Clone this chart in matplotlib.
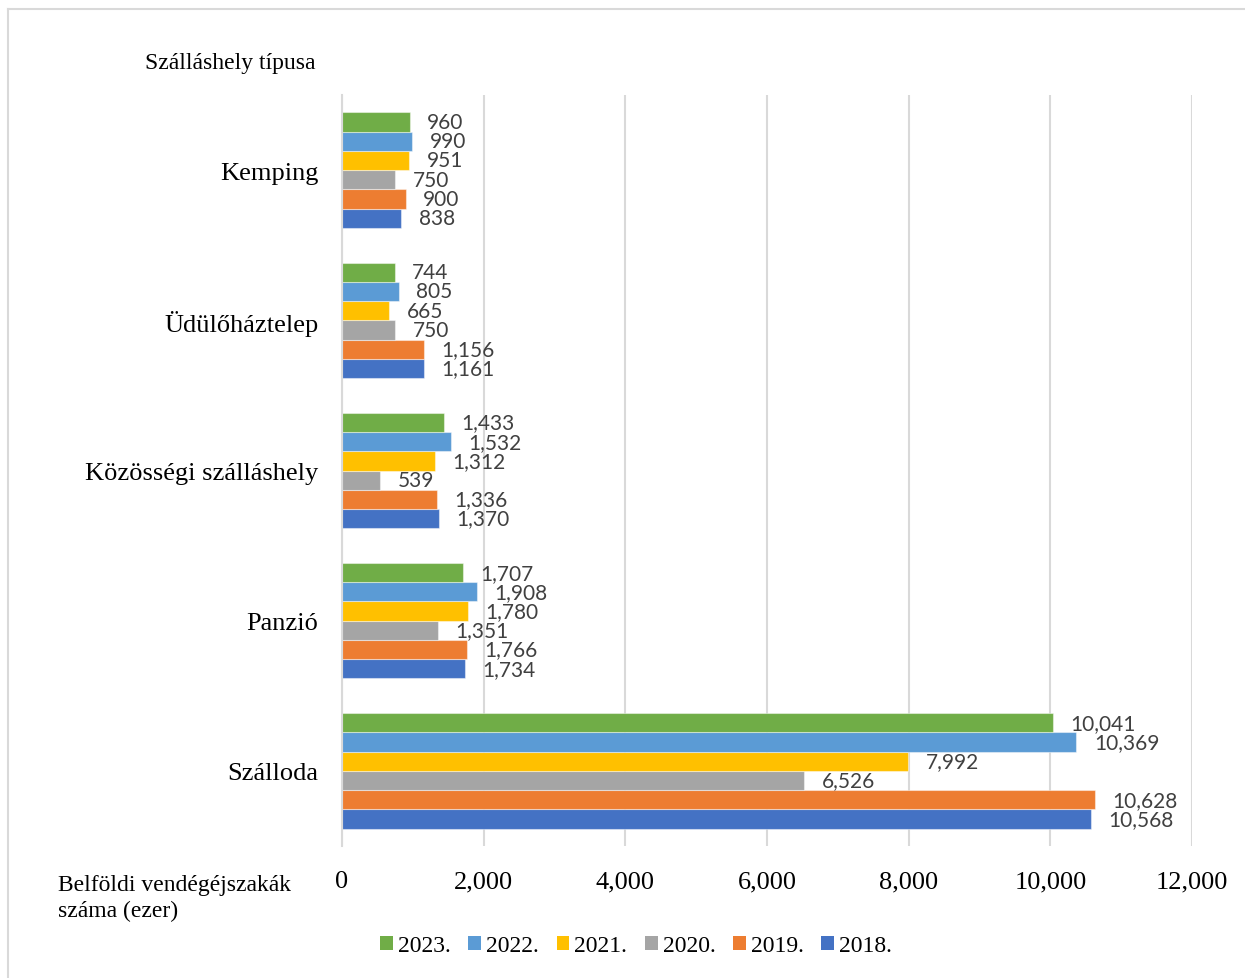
import matplotlib
matplotlib.use("Agg")
import matplotlib.pyplot as plt
from matplotlib.lines import Line2D
from matplotlib.patches import Patch
import numpy as np

categories = ["Szálloda", "Panzió", "Közösségi szálláshely", "Üdülőháztelep", "Kemping"]
years = ["2018.", "2019.", "2020.", "2021.", "2022.", "2023."]
values = {
    "2018.": [10568, 1734, 1370, 1161, 838],
    "2019.": [10628, 1766, 1336, 1156, 900],
    "2020.": [6526, 1351, 539, 750, 750],
    "2021.": [7992, 1780, 1312, 665, 951],
    "2022.": [10369, 1908, 1532, 805, 990],
    "2023.": [10041, 1707, 1433, 744, 960],
}
colors = {
    "2018.": "#4472C4",
    "2019.": "#ED7D31",
    "2020.": "#A5A5A5",
    "2021.": "#FFC000",
    "2022.": "#5B9BD5",
    "2023.": "#70AD47",
}
xticks = [0, 2000, 4000, 6000, 8000, 10000, 12000]

SERIF = ["Liberation Serif", "DejaVu Serif"]
LABEL_FONT = ["Lato", "DejaVu Sans"]

W, H = 1245, 979
fig = plt.figure(figsize=(W / 100, H / 100), dpi=100)
ax = fig.add_axes([342 / W, (H - 847) / H, 850 / W, 751 / H])

y = np.arange(len(categories))
bh = 0.128
n = len(years)
for i, yr in enumerate(years):
    off = (i - (n - 1) / 2) * bh
    bars = ax.barh(y + off, values[yr], height=bh, color=colors[yr],
                   edgecolor=(1, 1, 1, 0.45), linewidth=0.8, zorder=3)
    for b, v in zip(bars, values[yr]):
        ax.annotate(f"{v:,}", xy=(b.get_width(), b.get_y() + b.get_height() / 2),
                    xytext=(12.5, 0), textcoords="offset points",
                    ha="left", va="center", fontsize=15, color="#404040",
                    family=LABEL_FONT, zorder=4)

ax.set_xlim(0, 12000)
ax.set_ylim(-0.5, len(categories) - 0.5)
ax.set_xticks(xticks)
ax.set_xticklabels([f"{t:,}" for t in xticks], family=SERIF, fontsize=19)
ax.set_yticks(y)
ax.set_yticklabels(categories, family=SERIF, fontsize=19)
ax.tick_params(axis="x", length=0, pad=17.5)
ax.tick_params(axis="y", length=0, pad=17)
ax.grid(axis="x", color="#D9D9D9", linewidth=1.5, zorder=0)
for s in ["top", "right", "bottom"]:
    ax.spines[s].set_visible(False)
ax.spines["left"].set_color("#D9D9D9")
ax.spines["left"].set_linewidth(1.5)
ax.spines["left"].set_zorder(5)

fig.text(145 / W, 1 - 63 / H, "Szálláshely típusa", family=SERIF, fontsize=17,
         ha="left", va="center")
fig.text(58 / W, 1 - 899 / H, "Belföldi vendégéjszakák\nszáma (ezer)", family=SERIF,
         fontsize=17, ha="left", va="center", linespacing=1.3)

leg_years = years[::-1]
handles = [Patch(facecolor=colors[yr], edgecolor="none") for yr in leg_years]
fig.legend(handles, leg_years, loc="center", bbox_to_anchor=(636 / W, 1 - 947 / H),
           ncol=6, frameon=False, prop={"family": SERIF, "size": 17},
           handlelength=0.55, handleheight=0.55, handletextpad=0.2, columnspacing=0.75)

# border lines (top and left)
fig.add_artist(Line2D([8 / W, 1], [1 - 10 / H, 1 - 10 / H], color="#D9D9D9", lw=1.5,
                      transform=fig.transFigure))
fig.add_artist(Line2D([8 / W, 8 / W], [0, 1 - 10 / H], color="#D9D9D9", lw=1.5,
                      transform=fig.transFigure))

fig.savefig("out.png", dpi=100, facecolor="white")
